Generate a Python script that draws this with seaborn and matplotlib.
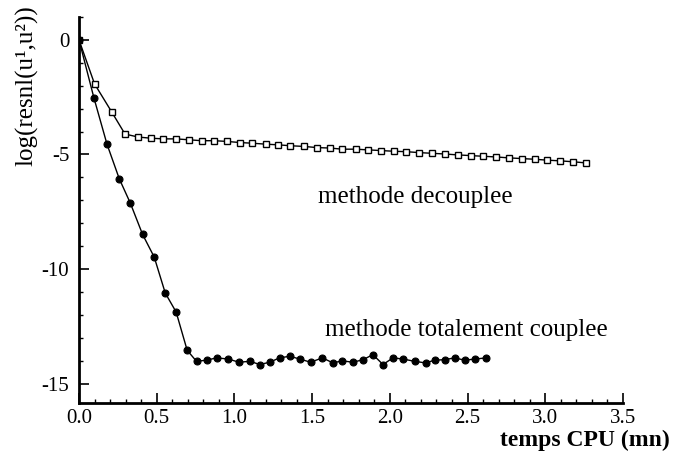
import matplotlib
matplotlib.use("Agg")
import matplotlib.pyplot as plt
from matplotlib.ticker import MultipleLocator
import seaborn as sns
import pandas as pd

# ---- data ----
dec_x = [0, 0.10, 0.21, 0.296, 0.381, 0.461, 0.542, 0.623, 0.707, 0.789, 0.870,
         0.949, 1.035, 1.116, 1.200, 1.281, 1.360, 1.448, 1.531, 1.613, 1.695,
         1.780, 1.859, 1.942, 2.024, 2.107, 2.189, 2.272, 2.354, 2.437, 2.519,
         2.602, 2.684, 2.767, 2.849, 2.932, 3.014, 3.097, 3.179, 3.262]
dec_y = [0, -1.92, -3.14, -4.11, -4.24, -4.29, -4.32, -4.32, -4.36, -4.40, -4.40,
         -4.43, -4.48, -4.51, -4.55, -4.58, -4.62, -4.65, -4.70, -4.72, -4.77,
         -4.77, -4.80, -4.83, -4.86, -4.88, -4.92, -4.95, -4.98, -5.02, -5.05,
         -5.08, -5.11, -5.15, -5.18, -5.21, -5.25, -5.28, -5.32, -5.37]

cou_x = [0, 0.096, 0.18, 0.259, 0.33, 0.409, 0.484, 0.555, 0.625, 0.696,
         0.756, 0.821, 0.885, 0.960, 1.030, 1.100, 1.163, 1.227, 1.290, 1.356,
         1.420, 1.490, 1.566, 1.634, 1.693, 1.763, 1.827, 1.891, 1.956, 2.020,
         2.084, 2.159, 2.230, 2.288, 2.352, 2.416, 2.481, 2.551, 2.620]
cou_y = [0, -2.53, -4.55, -6.06, -7.12, -8.49, -9.48, -11.05, -11.88, -13.55,
         -14.03, -13.98, -13.88, -13.93, -14.07, -14.03, -14.17, -14.07, -13.88, -13.81,
         -13.93, -14.07, -13.88, -14.10, -14.01, -14.07, -13.96, -13.74, -14.17, -13.88,
         -13.93, -14.03, -14.10, -13.98, -13.96, -13.88, -13.98, -13.93, -13.88]

x_ticks = [0.0, 0.5, 1.0, 1.5, 2.0, 2.5, 3.0, 3.5]
x_tick_labels = ["0.0", "0.5", "1.0", "1.5", "2.0", "2.5", "3.0", "3.5"]
y_ticks = [0, -5, -10, -15]
y_tick_labels = ["0", "-5", "-10", "-15"]

label_dec = "methode decouplee"
label_cou = "methode totalement couplee"
x_label = "temps CPU (mn)"
y_label = "log(resnl(u\u00b9,u\u00b2))"

# ---- style ----
sns.set_style("ticks")
plt.rcParams["font.family"] = ["Liberation Serif", "DejaVu Serif"]
plt.rcParams["axes.unicode_minus"] = False

fig = plt.figure(figsize=(6.76, 4.58), dpi=100)
ax = fig.add_axes([79 / 676, 1 - 403 / 458, (623 - 79) / 676, (403 - 17) / 458])

df_dec = pd.DataFrame({"x": dec_x, "y": dec_y})
df_cou = pd.DataFrame({"x": cou_x, "y": cou_y})

sns.lineplot(data=df_dec, x="x", y="y", ax=ax, sort=False, estimator=None,
             color="black", linewidth=1.0, marker="s", markersize=4.3,
             markerfacecolor="white", markeredgecolor="black", markeredgewidth=1.0)
sns.lineplot(data=df_cou, x="x", y="y", ax=ax, sort=False, estimator=None,
             color="black", linewidth=1.0, marker="o", markersize=5.0,
             markerfacecolor="black", markeredgecolor="black", markeredgewidth=0.8)

ax.set_xlim(0, 3.5)
ax.set_ylim(-15.85, 1.0)
ax.set_xticks(x_ticks)
ax.set_xticklabels(x_tick_labels)
ax.set_yticks(y_ticks)
ax.set_yticklabels(y_tick_labels)
ax.xaxis.set_minor_locator(MultipleLocator(0.1))
ax.yaxis.set_minor_locator(MultipleLocator(1))
ax.tick_params(axis="both", which="major", direction="in", length=7, width=1.2,
               labelsize=15, color="black", labelcolor="black")
ax.tick_params(axis="both", which="minor", direction="in", length=3, width=1.0,
               color="black")
ax.tick_params(axis="x", which="major", pad=4)
ax.tick_params(axis="y", which="major", pad=7)
sns.despine(ax=ax)
for s in ["left", "bottom"]:
    ax.spines[s].set_linewidth(2.0)
    ax.spines[s].set_color("black")
ax.set_xlabel("")
ax.set_ylabel("")

ax.text(1.54, -6.85, label_dec, fontsize=18, ha="left", va="center", color="black")
ax.text(1.58, -12.65, label_cou, fontsize=18, ha="left", va="center", color="black")

fig.text(585 / 676, 1 - 440 / 458, x_label, fontsize=17, fontweight="bold",
         ha="center", va="center", color="black")
fig.text(27 / 676, 1 - 86 / 458, y_label, fontsize=18, rotation=90,
         ha="center", va="center", color="black")

fig.savefig("out.png", dpi=100)
